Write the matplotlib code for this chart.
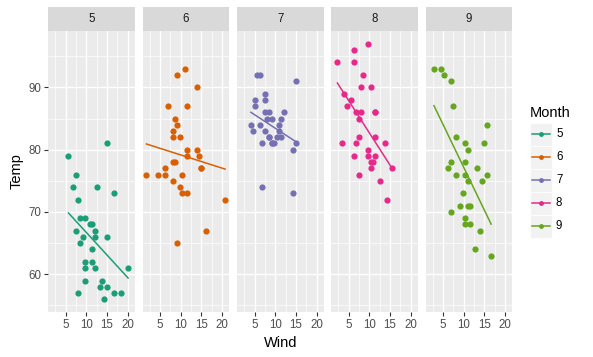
import matplotlib
matplotlib.use("Agg")
import matplotlib.pyplot as plt
from matplotlib.patches import Rectangle
import numpy as np

# airquality: Wind / Temp by month
months = [5, 6, 7, 8, 9]
colors = ["#1B9E77", "#D95F02", "#7570B3", "#E7298A", "#66A61E"]

wind_5 = [7.4, 8.0, 12.6, 11.5, 14.3, 14.9, 8.6, 13.8, 20.1, 8.6, 6.9, 9.7, 9.2, 10.9, 13.2, 11.5,
          12.0, 18.4, 11.5, 9.7, 9.7, 16.6, 9.7, 12.0, 16.6, 14.9, 8.0, 12.0, 14.9, 5.7, 7.4]
temp_5 = [67, 72, 74, 62, 56, 66, 65, 59, 61, 69, 74, 69, 66, 68, 58, 64,
          66, 57, 68, 62, 59, 73, 61, 61, 57, 58, 57, 67, 81, 79, 76]
wind_6 = [8.6, 9.7, 16.1, 9.2, 8.6, 14.3, 9.7, 6.9, 13.8, 11.5, 10.9, 9.2, 8.0, 13.8, 11.5,
          14.9, 20.7, 9.2, 11.5, 10.3, 6.3, 1.7, 4.6, 6.3, 8.0, 8.0, 10.3, 11.5, 14.9, 8.0]
temp_6 = [78, 74, 67, 84, 85, 79, 82, 87, 90, 87, 93, 92, 82, 80, 79,
          77, 72, 65, 73, 76, 77, 76, 76, 76, 75, 78, 73, 80, 77, 83]
wind_7 = [4.1, 9.2, 9.2, 10.9, 4.6, 10.9, 5.1, 6.3, 5.7, 7.4, 8.6, 14.3, 14.9, 14.9, 14.3, 6.9,
          10.3, 6.3, 5.1, 11.5, 6.9, 9.7, 11.5, 8.6, 8.0, 8.6, 12.0, 7.4, 7.4, 7.4, 9.2]
temp_7 = [84, 85, 81, 84, 83, 83, 88, 92, 92, 89, 82, 73, 81, 91, 80, 81,
          82, 84, 87, 85, 74, 81, 82, 86, 85, 82, 86, 88, 86, 83, 81]
wind_8 = [6.9, 13.8, 7.4, 6.9, 7.4, 4.6, 4.0, 10.3, 8.0, 8.6, 11.5, 11.5, 11.5, 9.7, 11.5, 10.3,
          6.3, 7.4, 10.9, 10.3, 15.5, 14.3, 12.6, 9.7, 3.4, 8.0, 5.7, 9.7, 2.3, 6.3, 6.3]
temp_8 = [81, 81, 82, 86, 85, 87, 89, 90, 90, 92, 86, 86, 82, 80, 79, 77,
          79, 76, 78, 78, 77, 72, 75, 79, 81, 86, 88, 97, 94, 96, 94]
wind_9 = [6.9, 5.1, 2.8, 4.6, 7.4, 15.5, 10.9, 10.3, 10.9, 9.7, 14.9, 15.5, 6.3, 10.9, 11.5,
          6.9, 13.8, 10.3, 10.3, 8.0, 12.6, 9.2, 10.3, 10.3, 16.6, 6.9, 13.2, 14.3, 8.0, 11.5]
temp_9 = [91, 92, 93, 93, 87, 84, 80, 78, 75, 73, 81, 76, 77, 71, 71,
          78, 67, 76, 68, 82, 64, 71, 81, 69, 63, 70, 77, 75, 76, 68]

winds = [wind_5, wind_6, wind_7, wind_8, wind_9]
temps = [temp_5, temp_6, temp_7, temp_8, temp_9]

W, H = 593, 357
fig = plt.figure(figsize=(W / 100, H / 100), dpi=100)
plt.rcParams["font.family"] = ["Liberation Sans", "DejaVu Sans"]

all_w = np.concatenate([np.array(w) for w in winds])
all_t = np.concatenate([np.array(t) for t in temps])
xr = all_w.max() - all_w.min()
yr = all_t.max() - all_t.min()
xlim = (all_w.min() - 0.05 * xr, all_w.max() + 0.05 * xr)
ylim = (all_t.min() - 0.05 * yr, all_t.max() + 0.05 * yr)

panel_left = [48, 142.5, 237, 331, 425.5]
pw = 86.5
ptop, pbot, stop = 31, 312, 7

for i, m in enumerate(months):
    x0 = panel_left[i]
    ax = fig.add_axes([x0 / W, (H - pbot) / H, pw / W, (pbot - ptop) / H])
    ax.set_facecolor("#EBEBEB")
    for s in ax.spines.values():
        s.set_visible(False)
    ax.set_xlim(xlim)
    ax.set_ylim(ylim)
    ax.set_xticks([5, 10, 15, 20])
    ax.set_xticks([2.5, 7.5, 12.5, 17.5], minor=True)
    ax.set_yticks([60, 70, 80, 90])
    ax.set_yticks([55, 65, 75, 85, 95], minor=True)
    ax.grid(which="major", color="white", lw=1.0)
    ax.grid(which="minor", color="white", lw=0.5)
    ax.set_axisbelow(True)
    ax.tick_params(which="major", length=3, width=0.8, color="#333333",
                   labelsize=8.3, labelcolor="#4D4D4D", pad=2)
    ax.tick_params(which="minor", length=0)
    if i > 0:
        ax.tick_params(axis="y", left=False, labelleft=False)

    w = np.array(winds[i])
    t = np.array(temps[i])
    ax.scatter(w, t, s=20, color=colors[i], linewidths=0, zorder=3)
    k, b = np.polyfit(w, t, 1)
    xs = np.array([w.min(), w.max()])
    ax.plot(xs, k * xs + b, color=colors[i], lw=1.1, zorder=4)

    if i == 0:
        ax.set_ylabel("Temp", fontsize=10.5, labelpad=3)
    if i == 2:
        ax.set_xlabel("Wind", fontsize=10.5, labelpad=3.5)

    sax = fig.add_axes([x0 / W, (H - ptop) / H, pw / W, (ptop - stop) / H])
    sax.set_facecolor("#D9D9D9")
    sax.set_xticks([])
    sax.set_yticks([])
    for s in sax.spines.values():
        s.set_visible(False)
    sax.text(0.5, 0.5, str(m), ha="center", va="center", fontsize=8.3, color="#1A1A1A",
             transform=sax.transAxes)

# legend drawn in pixel coordinates
lax = fig.add_axes([0, 0, 1, 1])
lax.set_xlim(0, W)
lax.set_ylim(H, 0)
lax.axis("off")
lax.text(530, 113, "Month", fontsize=10.5, va="center", ha="left", color="black")
for i, m in enumerate(months):
    y0 = 123 + 23 * i
    lax.add_patch(Rectangle((530, y0), 22, 22.5, facecolor="#F2F2F2", edgecolor="white", lw=0.6))
    lax.plot([532, 550], [y0 + 11.3, y0 + 11.3], color=colors[i], lw=1.1)
    lax.plot([541], [y0 + 11.3], marker="o", ms=3.5, color=colors[i], mew=0)
    lax.text(556, y0 + 11.3, str(m), fontsize=8.3, va="center", ha="left", color="black")

fig.savefig("out.png", dpi=100)
